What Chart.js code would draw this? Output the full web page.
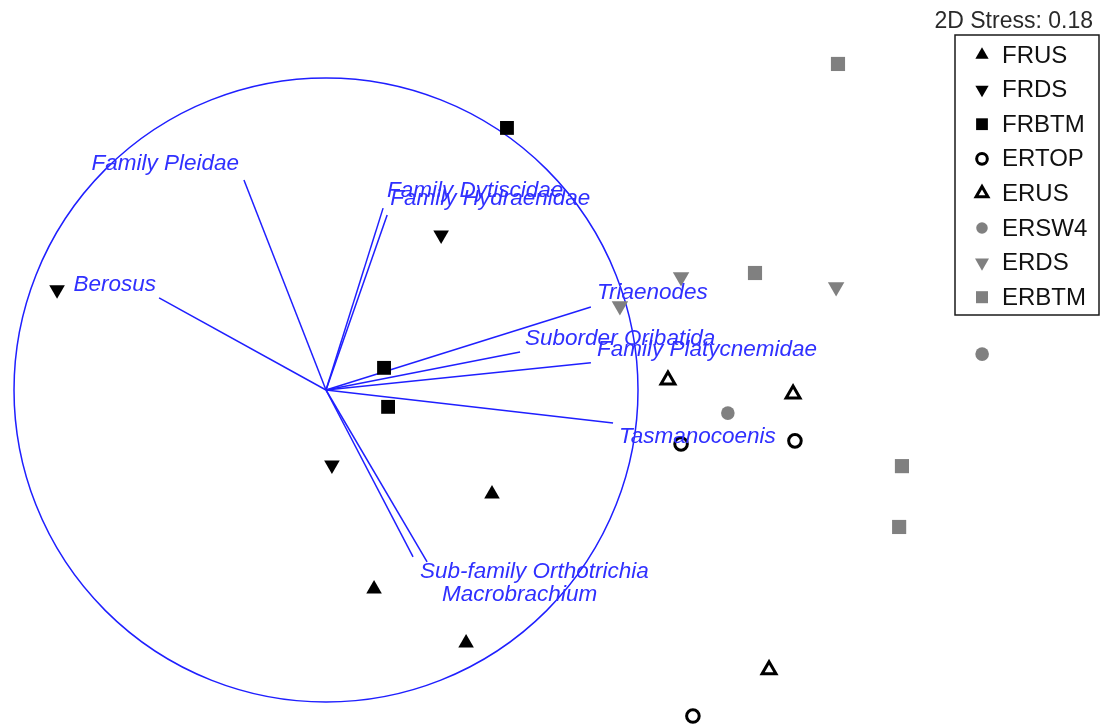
<!DOCTYPE html>
<html>
<head>
<meta charset="utf-8">
<title>NMDS ordination with vector overlay</title>
<script src="https://cdn.jsdelivr.net/npm/chart.js@4/dist/chart.umd.min.js"></script>
<style>
  html, body { margin: 0; padding: 0; background: #ffffff; }
  canvas { display: block; }
</style>
</head>
<body>
<canvas id="nmds" width="1102" height="726"></canvas>
<script>
// ---- Sample scores (NMDS axis 1, axis 2), one array per site group ----
const groupNames = ['FRUS', 'FRDS', 'FRBTM', 'ERTOP', 'ERUS', 'ERSW4', 'ERDS', 'ERBTM'];
const frusScores  = [[0.532, -0.333], [0.154, -0.638], [0.449, -0.811]];
const frdsScores  = [[-0.862, 0.321], [0.369, 0.497], [0.019, -0.240]];
const frbtmScores = [[0.580, 0.840], [0.186, 0.071], [0.199, -0.054]];
const ertopScores = [[1.138, -0.173], [1.503, -0.163], [1.176, -1.045]];
const erusScores  = [[1.096, 0.032], [1.497, -0.013], [1.420, -0.897]];
const ersw4Scores = [[2.103, 0.115], [1.288, -0.074]];
const erdsScores  = [[1.138, 0.362], [0.942, 0.269], [1.635, 0.330]];
const erbtmScores = [[1.641, 1.045], [1.375, 0.375], [1.846, -0.244], [1.837, -0.439]];
const groupScores = [frusScores, frdsScores, frbtmScores, ertopScores, erusScores, ersw4Scores, erdsScores, erbtmScores];

// ---- Taxon correlation vectors (relative to the unit circle) ----
const vectorNames = ['Family Pleidae', 'Berosus', 'Family Dytiscidae', 'Family Hydraenidae', 'Triaenodes',
  'Suborder Oribatida', 'Family Platycnemidae', 'Tasmanocoenis', 'Sub-family Orthotrichia', 'Macrobrachium'];
const vectorX = [-0.263, -0.535, 0.183, 0.196, 0.849, 0.622, 0.849, 0.920, 0.279, 0.324];
const vectorY = [0.673, 0.295, 0.583, 0.561, 0.266, 0.122, 0.087, -0.106, -0.535, -0.551];

const stressText = '2D Stress: 0.18';

// ---- Styles ----
const BLACK = '#000000';
const GREY = '#808080';
const VECTOR_BLUE = '#1f1fff';
const LABEL_BLUE = '#3030ff';

// marker style per group: shape, rotation, fill, stroke, radius, border
const groupStyles = [
  { shape: 'triangle', rot: 0,   fill: BLACK,  stroke: BLACK, r: 9,   bw: 0 },
  { shape: 'triangle', rot: 180, fill: BLACK,  stroke: BLACK, r: 9,   bw: 0 },
  { shape: 'rect',     rot: 0,   fill: BLACK,  stroke: BLACK, r: 9.8, bw: 0 },
  { shape: 'circle',   rot: 0,   fill: '#fff', stroke: BLACK, r: 6.3, bw: 3 },
  { shape: 'triangle', rot: 0,   fill: '#fff', stroke: BLACK, r: 8,   bw: 3 },
  { shape: 'circle',   rot: 0,   fill: GREY,   stroke: GREY,  r: 6.8, bw: 0 },
  { shape: 'triangle', rot: 180, fill: GREY,   stroke: GREY,  r: 9.5, bw: 0 },
  { shape: 'rect',     rot: 0,   fill: GREY,   stroke: GREY,  r: 10,  bw: 0 }
];

// label placement relative to each vector tip, in pixels: [dx, dy(baseline), alignment]
const vectorLabelNudge = [
  [-5, -10, 'right'], [-3, -7, 'right'], [4, -11, 'left'], [3, -10, 'left'], [6, -8, 'left'],
  [5, -7, 'left'], [6, -7, 'left'], [6, 20, 'left'], [7, 21, 'left'], [15, 39, 'left']
];

// plotting window (axis units, equal scaling on both axes)
const X_MIN = -1.0449, X_MAX = 2.4872;
const Y_MIN = -1.0769, Y_MAX = 1.25;

// ---- Datasets ----
const sampleSets = groupNames.map((name, i) => {
  const s = groupStyles[i];
  return {
    label: name,
    isGroup: true,
    type: 'scatter',
    data: groupScores[i].map(p => ({ x: p[0], y: p[1] })),
    pointStyle: s.shape,
    rotation: s.rot,
    pointRadius: s.r,
    pointHoverRadius: s.r,
    backgroundColor: s.fill,
    borderColor: s.stroke,
    pointBorderWidth: s.bw,
    borderWidth: s.bw,
    clip: false,
    order: 0
  };
});

const vectorSets = vectorNames.map((name, i) => ({
  label: name,
  isVector: true,
  type: 'line',
  data: [{ x: 0, y: 0 }, { x: vectorX[i], y: vectorY[i] }],
  borderColor: VECTOR_BLUE,
  borderWidth: 1.5,
  pointRadius: 0,
  fill: false,
  clip: false,
  order: 1
}));

// unit correlation circle, centred on the vector origin
const circlePlugin = {
  id: 'corrCircle',
  beforeDatasetsDraw(chart) {
    const { ctx, scales: { x, y } } = chart;
    const cx = x.getPixelForValue(0);
    const cy = y.getPixelForValue(0);
    const rad = x.getPixelForValue(1) - cx;
    ctx.save();
    ctx.strokeStyle = VECTOR_BLUE;
    ctx.lineWidth = 1.5;
    ctx.beginPath();
    ctx.arc(cx, cy, rad, 0, Math.PI * 2);
    ctx.stroke();
    ctx.restore();
  }
};

// taxon names at the vector tips
const vectorLabelPlugin = {
  id: 'vectorLabels',
  afterDatasetsDraw(chart) {
    const { ctx, scales: { x, y } } = chart;
    ctx.save();
    ctx.font = 'italic 22.5px "Liberation Sans", Arial, sans-serif';
    ctx.fillStyle = LABEL_BLUE;
    ctx.textBaseline = 'alphabetic';
    vectorNames.forEach((name, i) => {
      const [dx, dy, align] = vectorLabelNudge[i];
      ctx.textAlign = align;
      ctx.fillText(name, x.getPixelForValue(vectorX[i]) + dx, y.getPixelForValue(vectorY[i]) + dy);
    });
    ctx.restore();
  }
};

function drawMarker(ctx, ds, px, py) {
  ctx.save();
  ctx.fillStyle = ds.backgroundColor;
  ctx.strokeStyle = ds.borderColor;
  ctx.lineWidth = ds.pointBorderWidth;
  const opts = { pointStyle: ds.pointStyle, rotation: ds.rotation, radius: ds.pointRadius, borderWidth: ds.pointBorderWidth };
  if (Chart.helpers && Chart.helpers.drawPoint) {
    Chart.helpers.drawPoint(ctx, opts, px, py);
  }
  ctx.restore();
}

// boxed key of site groups plus the stress value above it
const keyPlugin = {
  id: 'groupKey',
  afterDraw(chart) {
    const { ctx } = chart;
    const left = 955, top = 35, right = 1099, bottom = 315;
    ctx.save();
    ctx.font = '23px "Liberation Sans", Arial, sans-serif';
    ctx.fillStyle = '#2a2a2a';
    ctx.textAlign = 'right';
    ctx.textBaseline = 'alphabetic';
    ctx.fillText(stressText, 1093, 28);

    ctx.fillStyle = '#ffffff';
    ctx.fillRect(left, top, right - left, bottom - top);
    ctx.strokeStyle = '#1a1a1a';
    ctx.lineWidth = 1.5;
    ctx.strokeRect(left, top, right - left, bottom - top);

    const groups = chart.data.datasets.filter(d => d.isGroup);
    groups.forEach((ds, i) => {
      const cy = 55 + i * 34.6;
      drawMarker(ctx, Object.assign({}, ds, { pointRadius: ds.pointRadius * 0.85 }), 982, cy);
      ctx.font = '24px "Liberation Sans", Arial, sans-serif';
      ctx.fillStyle = '#111111';
      ctx.textAlign = 'left';
      ctx.textBaseline = 'middle';
      ctx.fillText(ds.label, 1002, cy + 1);
    });
    ctx.restore();
  }
};

new Chart(document.getElementById('nmds'), {
  type: 'scatter',
  data: { datasets: [...vectorSets, ...sampleSets] },
  options: {
    responsive: false,
    devicePixelRatio: 1,
    animation: false,
    events: [],
    layout: { padding: 0, autoPadding: false },
    plugins: {
      legend: { display: false },
      title: { display: false },
      tooltip: { enabled: false }
    },
    scales: {
      x: { type: 'linear', min: X_MIN, max: X_MAX, display: false },
      y: { type: 'linear', min: Y_MIN, max: Y_MAX, display: false }
    }
  },
  plugins: [circlePlugin, vectorLabelPlugin, keyPlugin]
});
</script>
</body>
</html>
